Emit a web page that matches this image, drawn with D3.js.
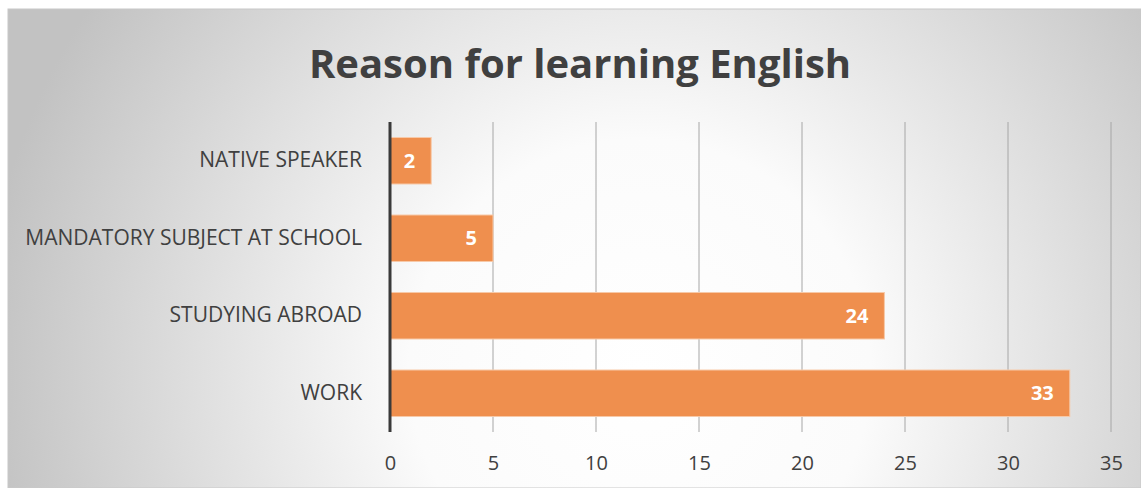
<!doctype html>
<html>
<head>
<meta charset="utf-8"/>
<title>Reason for learning English</title>
<script src="https://d3js.org/d3.v7.min.js"></script>
<style>
  body { margin: 0; background: #fff; }
  text { font-family: "Open Sans", "DejaVu Sans", sans-serif; }
</style>
</head>
<body>
<script>
// data
var reasons = ["NATIVE SPEAKER", "MANDATORY SUBJECT AT SCHOOL", "STUDYING ABROAD", "WORK"];
var counts = [2, 5, 24, 33];
var xTicks = [0, 5, 10, 15, 20, 25, 30, 35];
var chartTitle = "Reason for learning English";

var W = 1141, H = 488;
var svg = d3.select("body").append("svg")
    .attr("width", W)
    .attr("height", H);

// background gradient like the office chart area
var defs = svg.append("defs");
var grad = defs.append("radialGradient")
    .attr("id", "bg")
    .attr("gradientUnits", "userSpaceOnUse")
    .attr("cx", 640).attr("cy", 370).attr("r", 660);
grad.append("stop").attr("offset", "0%").attr("stop-color", "#ffffff");
grad.append("stop").attr("offset", "35%").attr("stop-color", "#fbfbfb");
grad.append("stop").attr("offset", "100%").attr("stop-color", "#c2c2c2");

svg.append("rect")
    .attr("x", 8).attr("y", 9)
    .attr("width", W - 8).attr("height", H - 9)
    .attr("fill", "url(#bg)")
    .attr("stroke", "#c8c8c8")
    .attr("stroke-width", 1);

// title
svg.append("text")
    .attr("x", 580).attr("y", 78)
    .attr("text-anchor", "middle")
    .attr("font-size", 40)
    .attr("font-weight", "bold")
    .attr("fill", "#404040")
    .text(chartTitle);

var plotL = 390, plotR = 1111, plotT = 122, plotB = 432;

var x = d3.scaleLinear().domain([0, 35]).range([plotL, plotR]);
var y = d3.scaleBand().domain(reasons).range([plotT, plotB]).paddingInner(0.4).paddingOuter(0.2);

// gridlines
svg.append("g")
    .selectAll("line")
    .data(xTicks.slice(1))
    .enter().append("line")
    .attr("x1", function(d) { return x(d); })
    .attr("x2", function(d) { return x(d); })
    .attr("y1", plotT).attr("y2", plotB)
    .attr("stroke", "#a6a6a6")
    .attr("stroke-width", 1);

// x tick labels
var xAxis = svg.append("g")
    .attr("transform", "translate(0," + plotB + ")")
    .call(d3.axisBottom(x).tickValues(xTicks).tickSize(0).tickPadding(24));
xAxis.select(".domain").remove();
xAxis.selectAll("text")
    .attr("font-size", 20)
    .attr("font-family", "'Open Sans', sans-serif")
    .attr("fill", "#404040");

// bars
svg.append("g")
    .selectAll("rect")
    .data(counts)
    .enter().append("rect")
    .attr("x", x(0))
    .attr("y", function(d, i) { return y(reasons[i]); })
    .attr("width", function(d) { return x(d) - x(0); })
    .attr("height", y.bandwidth())
    .attr("fill", "#ef8f4e")
    .attr("stroke", "#f7c9a8")
    .attr("stroke-width", 1);

// data labels
svg.append("g")
    .selectAll("text")
    .data(counts)
    .enter().append("text")
    .attr("x", function(d) { return x(d) - 16; })
    .attr("y", function(d, i) { return y(reasons[i]) + y.bandwidth() / 2; })
    .attr("dy", "0.36em")
    .attr("text-anchor", "end")
    .attr("font-size", 20)
    .attr("font-weight", "bold")
    .attr("fill", "#ffffff")
    .text(function(d) { return d; });

// category axis
var yAxis = svg.append("g")
    .attr("transform", "translate(" + plotL + ",0)")
    .call(d3.axisLeft(y).tickSize(0).tickPadding(28));
yAxis.select(".domain").remove();
yAxis.selectAll("text")
    .attr("font-size", 21)
    .attr("font-family", "'Open Sans', sans-serif")
    .attr("fill", "#404040");

svg.append("line")
    .attr("x1", plotL).attr("x2", plotL)
    .attr("y1", plotT).attr("y2", plotB)
    .attr("stroke", "#3a3a3a")
    .attr("stroke-width", 3);
</script>
</body>
</html>
